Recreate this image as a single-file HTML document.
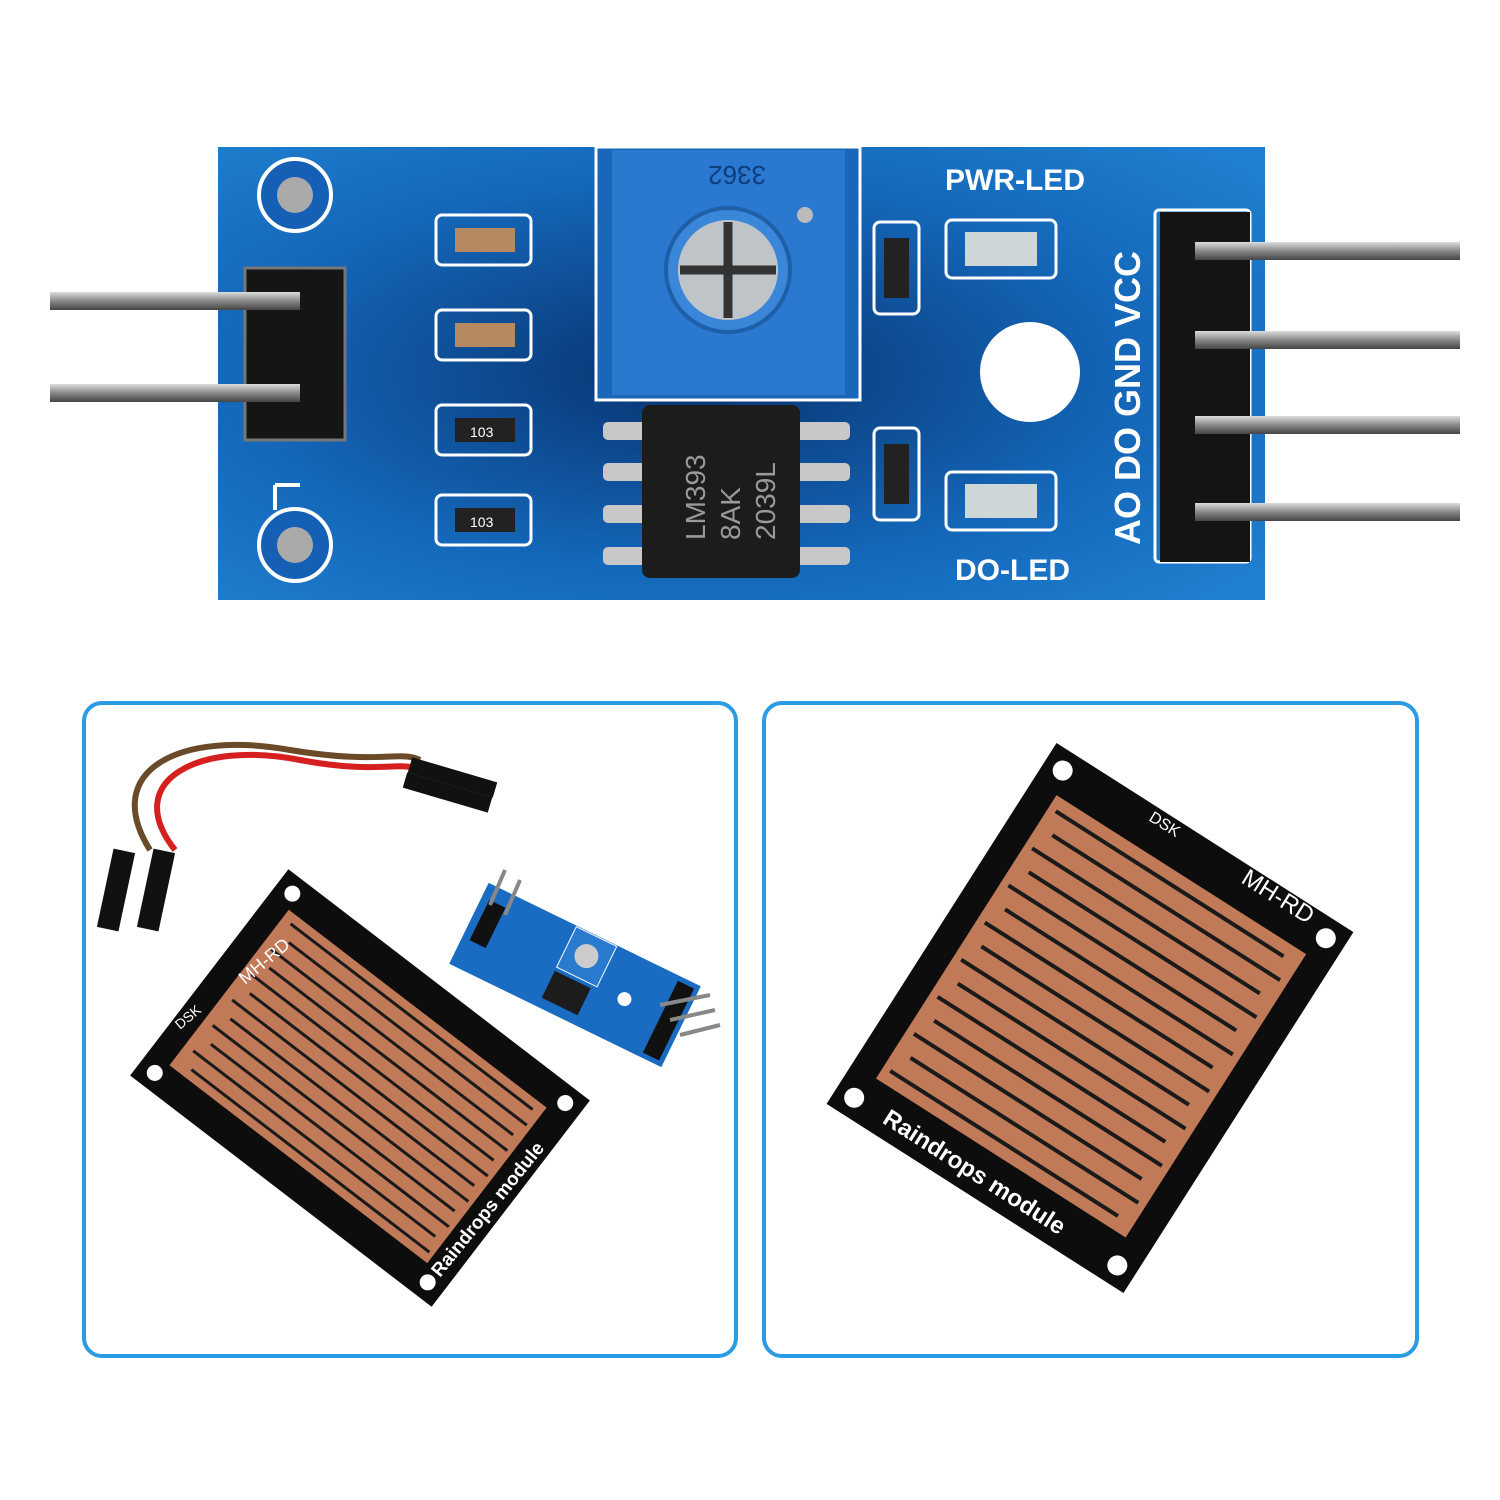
<!DOCTYPE html>
<html><head><meta charset="utf-8"><style>
html,body{margin:0;padding:0;background:#fff;}
svg{display:block;}
text{font-family:"Liberation Sans",sans-serif;}
</style></head><body>
<svg width="1500" height="1500" viewBox="0 0 1500 1500" xmlns="http://www.w3.org/2000/svg">
<defs>
<radialGradient id="bl" cx="0.45" cy="0.5" r="0.7">
<stop offset="0" stop-color="#08336f"/><stop offset="0.6" stop-color="#1466b8"/><stop offset="1" stop-color="#1f7fd0"/>
</radialGradient>
<linearGradient id="pin" x1="0" y1="0" x2="0" y2="1">
<stop offset="0" stop-color="#ddd"/><stop offset="0.5" stop-color="#888"/><stop offset="1" stop-color="#444"/>
</linearGradient>
</defs>
<rect width="1500" height="1500" fill="#fff"/>

<!-- TOP BOARD -->
<rect x="218" y="147" width="1047" height="453" fill="url(#bl)"/>
<rect x="50" y="292" width="200" height="18" fill="url(#pin)"/>
<rect x="50" y="384" width="200" height="18" fill="url(#pin)"/>
<rect x="245" y="268" width="100" height="172" fill="#151515" stroke="#777" stroke-width="3"/>
<rect x="240" y="292" width="60" height="18" fill="url(#pin)"/>
<rect x="240" y="384" width="60" height="18" fill="url(#pin)"/>
<path d="M275 485 L300 485 M275 485 L275 510" stroke="#fff" stroke-width="4" fill="none"/>
<circle cx="295" cy="195" r="36" fill="#1560b5" stroke="#fff" stroke-width="4"/>
<circle cx="295" cy="195" r="18" fill="#aaa"/>
<circle cx="295" cy="545" r="36" fill="#1560b5" stroke="#fff" stroke-width="4"/>
<circle cx="295" cy="545" r="18" fill="#aaa"/>
<g stroke="#fff" stroke-width="3" fill="none">
<rect x="436" y="215" width="95" height="50" rx="6"/>
<rect x="436" y="310" width="95" height="50" rx="6"/>
<rect x="436" y="405" width="95" height="50" rx="6"/>
<rect x="436" y="495" width="95" height="50" rx="6"/>
<rect x="874" y="222" width="45" height="92" rx="6"/>
<rect x="874" y="428" width="45" height="92" rx="6"/>
<rect x="946" y="220" width="110" height="58" rx="6"/>
<rect x="946" y="472" width="110" height="58" rx="6"/>
<rect x="1155" y="210" width="95" height="352" rx="4"/>
</g>
<rect x="455" y="228" width="60" height="24" fill="#b58a63"/>
<rect x="455" y="323" width="60" height="24" fill="#b58a63"/>
<rect x="455" y="418" width="60" height="24" fill="#222"/><text x="470" y="437" font-size="14" fill="#fff">103</text>
<rect x="455" y="508" width="60" height="24" fill="#222"/><text x="470" y="527" font-size="14" fill="#fff">103</text>
<rect x="884" y="238" width="25" height="60" fill="#222"/>
<rect x="884" y="444" width="25" height="60" fill="#222"/>
<rect x="965" y="232" width="72" height="34" fill="#cfd6d8"/>
<rect x="965" y="484" width="72" height="34" fill="#cfd6d8"/>
<rect x="596" y="147" width="264" height="253" fill="#1a66b8" stroke="#fff" stroke-width="3"/>
<rect x="612" y="150" width="233" height="245" fill="#2a78cf"/>
<text x="690" y="182" font-size="26" fill="#0d3d7a" transform="rotate(180 728 174)">3362</text>
<circle cx="728" cy="270" r="62" fill="#3a86d8" stroke="#1e5fa8" stroke-width="4"/>
<circle cx="728" cy="270" r="50" fill="#bfc4c8"/>
<path d="M728 222 V318 M680 270 H776" stroke="#333" stroke-width="9"/>
<circle cx="805" cy="215" r="8" fill="#bbb"/>
<g fill="#c8c8c8">
<rect x="603" y="422" width="45" height="18" rx="5"/><rect x="603" y="463" width="45" height="18" rx="5"/>
<rect x="603" y="505" width="45" height="18" rx="5"/><rect x="603" y="547" width="45" height="18" rx="5"/>
<rect x="795" y="422" width="55" height="18" rx="5"/><rect x="795" y="463" width="55" height="18" rx="5"/>
<rect x="795" y="505" width="55" height="18" rx="5"/><rect x="795" y="547" width="55" height="18" rx="5"/>
</g>
<rect x="642" y="405" width="158" height="173" rx="8" fill="#1c1c1c"/>
<text x="0" y="0" font-size="28" fill="#999" transform="translate(705 540) rotate(-90)">LM393</text>
<text x="0" y="0" font-size="28" fill="#999" transform="translate(740 540) rotate(-90)">8AK</text>
<text x="0" y="0" font-size="28" fill="#999" transform="translate(775 540) rotate(-90)">2039L</text>
<circle cx="1030" cy="372" r="50" fill="#fff"/>
<text x="945" y="190" font-size="30" font-weight="bold" fill="#fff">PWR-LED</text>
<text x="955" y="580" font-size="30" font-weight="bold" fill="#fff">DO-LED</text>
<text x="0" y="0" font-size="36" font-weight="bold" fill="#fff" transform="translate(1140 545) rotate(-90)">AO  DO GND VCC</text>
<rect x="1160" y="212" width="90" height="350" fill="#141414"/>
<rect x="1195" y="242" width="265" height="18" fill="url(#pin)"/>
<rect x="1195" y="331" width="265" height="18" fill="url(#pin)"/>
<rect x="1195" y="416" width="265" height="18" fill="url(#pin)"/>
<rect x="1195" y="503" width="265" height="18" fill="url(#pin)"/>

<!-- FRAMES -->
<rect x="84" y="703" width="652" height="653" rx="18" fill="none" stroke="#2b9be3" stroke-width="4"/>
<rect x="764" y="703" width="653" height="653" rx="18" fill="none" stroke="#2b9be3" stroke-width="4"/>

<!-- RIGHT SENSOR -->
<g transform="translate(1090 1018) rotate(32.5)">
<rect x="-176" y="-214" width="352" height="428" fill="#0d0d0d"/>
<rect x="-148" y="-170" width="296" height="336" fill="#c07a58"/>
<g stroke="#1a1a1a" stroke-width="4">
<line x1="-140" y1="-156" x2="130" y2="-156"/><line x1="-130" y1="-134" x2="140" y2="-134"/>
<line x1="-140" y1="-112" x2="130" y2="-112"/><line x1="-130" y1="-90" x2="140" y2="-90"/>
<line x1="-140" y1="-68" x2="130" y2="-68"/><line x1="-130" y1="-46" x2="140" y2="-46"/>
<line x1="-140" y1="-24" x2="130" y2="-24"/><line x1="-130" y1="-2" x2="140" y2="-2"/>
<line x1="-140" y1="20" x2="130" y2="20"/><line x1="-130" y1="42" x2="140" y2="42"/>
<line x1="-140" y1="64" x2="130" y2="64"/><line x1="-130" y1="86" x2="140" y2="86"/>
<line x1="-140" y1="108" x2="130" y2="108"/><line x1="-130" y1="130" x2="140" y2="130"/>
<line x1="-140" y1="152" x2="130" y2="152"/>
</g>
<circle cx="-156" cy="-194" r="10" fill="#fff"/><circle cx="156" cy="-194" r="10" fill="#fff"/>
<circle cx="-156" cy="194" r="10" fill="#fff"/><circle cx="156" cy="194" r="10" fill="#fff"/>
<text x="-120" y="200" font-size="24" font-family="Liberation Serif" font-weight="bold" fill="#fff">Raindrops  module</text>
</g>
<text x="0" y="0" font-size="24" font-family="Liberation Serif" fill="#fff" transform="translate(1240 882) rotate(32)">MH-RD</text>
<text x="0" y="0" font-size="16" font-family="Liberation Serif" fill="#fff" transform="translate(1148 820) rotate(32)">DSK</text>

<!-- LEFT PANEL -->
<path d="M175 850 C120 780 200 740 300 760 C380 775 400 760 420 770" stroke="#d62020" stroke-width="6" fill="none"/>
<path d="M150 850 C100 770 180 730 290 750 C380 765 400 750 420 760" stroke="#6b4a2a" stroke-width="6" fill="none"/>
<path d="M410 765 L495 790" stroke="#111" stroke-width="16"/>
<path d="M405 780 L490 805" stroke="#111" stroke-width="16"/>
<rect x="105" y="850" width="22" height="80" fill="#111" transform="rotate(12 116 890)"/>
<rect x="145" y="850" width="22" height="80" fill="#111" transform="rotate(12 156 890)"/>
<g transform="translate(360 1088) rotate(37.5)">
<rect x="-190" y="-130" width="380" height="260" fill="#0d0d0d"/>
<rect x="-165" y="-98" width="325" height="196" fill="#c07a58"/>
<g stroke="#1a1a1a" stroke-width="3">
<line x1="-155" y1="-88" x2="150" y2="-88"/><line x1="-145" y1="-72" x2="155" y2="-72"/>
<line x1="-155" y1="-56" x2="150" y2="-56"/><line x1="-145" y1="-40" x2="155" y2="-40"/>
<line x1="-155" y1="-24" x2="150" y2="-24"/><line x1="-145" y1="-8" x2="155" y2="-8"/>
<line x1="-155" y1="8" x2="150" y2="8"/><line x1="-145" y1="24" x2="155" y2="24"/>
<line x1="-155" y1="40" x2="150" y2="40"/><line x1="-145" y1="56" x2="155" y2="56"/>
<line x1="-155" y1="72" x2="150" y2="72"/><line x1="-145" y1="88" x2="155" y2="88"/>
</g>
<circle cx="-172" cy="-113" r="8" fill="#fff"/><circle cx="172" cy="-113" r="8" fill="#fff"/>
<circle cx="-172" cy="113" r="8" fill="#fff"/><circle cx="172" cy="113" r="8" fill="#fff"/>
</g>
<text x="0" y="0" font-size="19" font-family="Liberation Serif" font-weight="bold" fill="#fff" transform="translate(440 1278) rotate(-51)">Raindrops module</text>
<text x="0" y="0" font-size="18" font-family="Liberation Serif" fill="#fff" transform="translate(245 985) rotate(-40)">MH-RD</text>
<text x="0" y="0" font-size="14" font-family="Liberation Serif" fill="#fff" transform="translate(180 1030) rotate(-40)">DSK</text>
<g transform="translate(575 975) rotate(26)">
<rect x="-118" y="-45" width="236" height="90" fill="#1a6cc2"/>
<rect x="-20" y="-44" width="45" height="45" fill="#2a7ad0" stroke="#fff"/>
<circle cx="2" cy="-22" r="12" fill="#ccc"/>
<rect x="-20" y="5" width="40" height="30" fill="#1c1c1c"/>
<rect x="-110" y="-30" width="18" height="45" fill="#111"/>
<rect x="95" y="-40" width="18" height="80" fill="#111"/>
<circle cx="55" cy="0" r="7" fill="#fff"/>
</g>
<path d="M490 905 L505 870 M505 915 L520 880" stroke="#888" stroke-width="4"/>
<path d="M660 1005 L710 995 M670 1020 L715 1010 M680 1035 L720 1025" stroke="#888" stroke-width="4"/>
</svg>
</body></html>
